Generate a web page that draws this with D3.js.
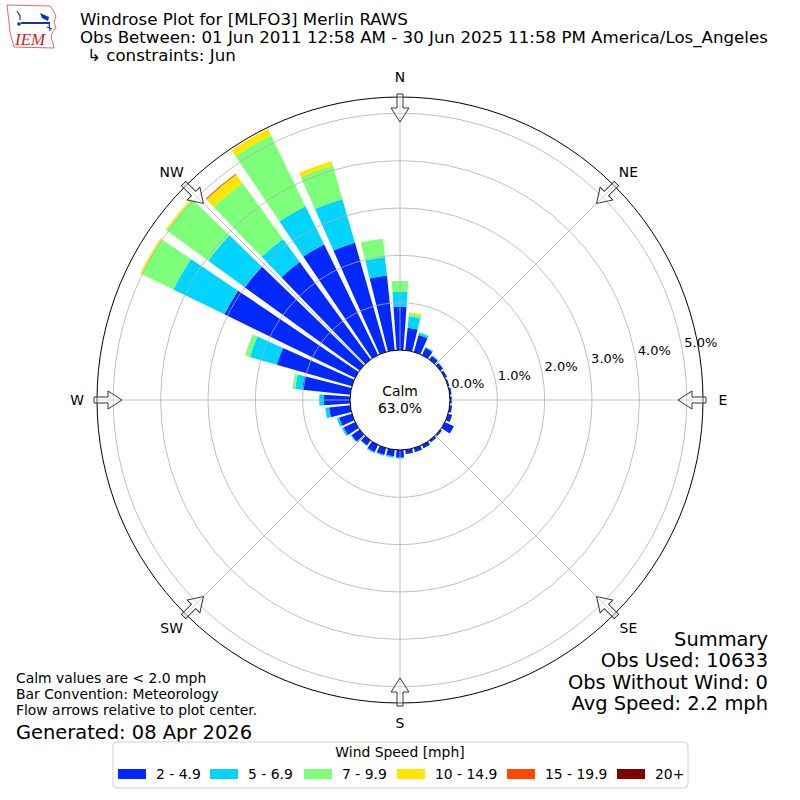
<!DOCTYPE html>
<html>
<head>
<meta charset="utf-8">
<script src="https://cdn.jsdelivr.net/npm/d3@7"></script>
<style>
  html, body { margin: 0; padding: 0; background: #fff; }
  svg { display: block; font-family: 'DejaVu Sans', sans-serif; }
</style>
</head>
<body>
<svg id="chart" width="800" height="800"></svg>
<script>
// ── DATA ─────────────────────────────────────────────────────────────────
const directions = d3.range(0, 360, 10);   // 36 sectors, degrees from north
const speedBins  = ['2 - 4.9', '5 - 6.9', '7 - 9.9', '10 - 14.9', '15 - 19.9', '20+'];
const binColors  = ['#0028ff', '#00d4ff', '#7dff7a', '#ffe500', '#ff4800', '#800000'];

// percent of observations per sector, one array per speed bin
const pct2to5   = [0.92, 0.48, 0.37, 0.17, 0.09, 0.07, 0.05, 0.03, 0.04, 0.04, 0.05, 0.09,
                   0.21, 0.04, 0.05, 0.08, 0.09, 0.09, 0.16, 0.14, 0.15, 0.17, 0.13, 0.21,
                   0.27, 0.28, 0.45, 0.55, 1.02, 1.65, 3.07, 3.00, 2.55, 2.60, 2.40, 1.59];
const pct5to7   = [0.31, 0.24, 0.05, 0.02, 0.02, 0.01, 0, 0, 0, 0, 0, 0,
                   0, 0, 0, 0, 0, 0, 0.02, 0.03, 0.02, 0.02, 0.01, 0.02,
                   0.04, 0.05, 0.08, 0.10, 0.15, 0.59, 1.20, 0.95, 0.60, 0.90, 0.96, 0.39];
const pct7to10  = [0.23, 0.06, 0.02, 0.01, 0, 0, 0, 0, 0, 0, 0, 0,
                   0, 0, 0, 0, 0, 0, 0, 0, 0.01, 0, 0, 0,
                   0, 0, 0, 0, 0.06, 0.11, 0.75, 1.09, 1.46, 1.66, 0.74, 0.39];
const pct10to15 = [0, 0.03, 0, 0, 0, 0, 0, 0, 0, 0, 0, 0,
                   0, 0, 0, 0, 0, 0, 0, 0, 0, 0, 0, 0,
                   0, 0, 0, 0, 0, 0, 0.03, 0.03, 0.22, 0.15, 0.09, 0];
const pct15to20 = [0, 0, 0, 0, 0, 0, 0, 0, 0, 0, 0, 0,
                   0, 0, 0, 0, 0, 0, 0, 0, 0, 0, 0, 0,
                   0, 0, 0, 0, 0, 0, 0, 0, 0.02, 0, 0, 0];
const pct20up   = new Array(36).fill(0);

const ringTicks = [0, 1, 2, 3, 4, 5];
const compass   = ['N', 'NE', 'E', 'SE', 'S', 'SW', 'W', 'NW'];
const calmPct   = 63.0;

const titleLines = [
  'Windrose Plot for [MLFO3] Merlin RAWS',
  'Obs Between: 01 Jun 2011 12:58 AM - 30 Jun 2025 11:58 PM America/Los_Angeles',
  '\u21b3 constraints: Jun'
];
const notes   = ['Calm values are < 2.0 mph', 'Bar Convention: Meteorology', 'Flow arrows relative to plot center.'];
const summary = ['Summary', 'Obs Used: 10633', 'Obs Without Wind: 0', 'Avg Speed: 2.2 mph'];

// ── SETUP ────────────────────────────────────────────────────────────────
const svg = d3.select('#chart');
const cx = 400, cy = 400;
const calmR = 50, outerR = 303;
const deg = Math.PI / 180;
const fsSmall = 13.9, fsTitle = 16.67, fsBig = 19.44;   // 10pt, 12pt, 14pt

const r = d3.scaleLinear().domain([0, 5.344]).range([calmR, outerR]);

const series = [pct2to5, pct5to7, pct7to10, pct10to15, pct15to20, pct20up];
const rows = directions.map((d, i) => {
  const row = { dir: d };
  speedBins.forEach((b, j) => { row[b] = series[j][i]; });
  return row;
});
const stacked = d3.stack().keys(speedBins)(rows);

const g = svg.append('g').attr('transform', `translate(${cx},${cy})`);

// Bars (opening 0.8 of a 10° sector)
const arc = d3.arc();
stacked.forEach((layer, j) => {
  g.append('g').selectAll('path').data(layer.filter(d => d[1] - d[0] > 0)).enter()
    .append('path')
    .attr('fill', binColors[j])
    .attr('d', d => arc({
      innerRadius: r(d[0]), outerRadius: r(d[1]),
      startAngle: (d.data.dir - 4) * deg, endAngle: (d.data.dir + 4) * deg
    }));
});

// Grid rings + spokes (on top of bars, like the original)
g.append('g').selectAll('circle').data(ringTicks.slice(1)).enter().append('circle')
  .attr('r', d => r(d)).attr('fill', 'none')
  .attr('stroke', '#b0b0b0').attr('stroke-width', 0.8);

g.append('g').selectAll('line').data(d3.range(0, 360, 45)).enter().append('line')
  .attr('x1', 0).attr('y1', 0)
  .attr('x2', d => outerR * Math.sin(d * deg))
  .attr('y2', d => -outerR * Math.cos(d * deg))
  .attr('stroke', '#b0b0b0').attr('stroke-width', 0.8);

// Outer frame
g.append('circle').attr('r', outerR).attr('fill', 'none').attr('stroke', '#000').attr('stroke-width', 1);

// Calm circle
g.append('circle').attr('r', calmR).attr('fill', '#fff').attr('stroke', '#000').attr('stroke-width', 1);
g.append('text').attr('text-anchor', 'middle').attr('y', -4).attr('font-size', fsSmall).text('Calm');
g.append('text').attr('text-anchor', 'middle').attr('y', 12.5).attr('font-size', fsSmall).text(calmPct.toFixed(1) + '%');

// Radial tick labels (along ~10° above east)
g.append('g').selectAll('text').data(ringTicks).enter().append('text')
  .attr('x', d => r(d) * Math.cos(10 * deg) + 2)
  .attr('y', d => -r(d) * Math.sin(10 * deg) - 3.5)
  .attr('font-size', 13)
  .text(d => d.toFixed(1) + '%');

// Flow arrows at compass points (pointing toward center)
const arrowPath = 'M-3,-306 L3,-306 L3,-292 L9,-292 L0,-278 L-9,-292 L-3,-292 Z';
g.append('g').selectAll('path').data(d3.range(0, 360, 45)).enter().append('path')
  .attr('d', arrowPath)
  .attr('transform', d => `rotate(${d})`)
  .attr('fill', 'rgba(255,255,255,0.35)')
  .attr('stroke', '#333').attr('stroke-width', 1);

// Compass labels
g.append('g').selectAll('text').data(compass).enter().append('text')
  .attr('x', (d, i) => 323 * Math.sin(i * 45 * deg))
  .attr('y', (d, i) => -323 * Math.cos(i * 45 * deg))
  .attr('text-anchor', 'middle').attr('dominant-baseline', 'central')
  .attr('font-size', fsSmall)
  .text(d => d);

// ── TITLES ───────────────────────────────────────────────────────────────
svg.append('g').selectAll('text').data(titleLines).enter().append('text')
  .attr('x', (d, i) => i === 2 ? 87 : 80)
  .attr('y', (d, i) => 25 + i * 17.8)
  .attr('font-size', fsTitle)
  .text(d => d);

// Notes, bottom-left
svg.append('g').selectAll('text').data(notes).enter().append('text')
  .attr('x', 16).attr('y', (d, i) => 683 + i * 16)
  .attr('font-size', fsSmall).text(d => d);
svg.append('text').attr('x', 16).attr('y', 738.5).attr('font-size', fsBig).text('Generated: 08 Apr 2026');

// Summary, bottom-right
svg.append('g').selectAll('text').data(summary).enter().append('text')
  .attr('x', 768).attr('y', (d, i) => 646 + i * 21.4)
  .attr('text-anchor', 'end').attr('font-size', fsBig).text(d => d);

// ── LEGEND ───────────────────────────────────────────────────────────────
const lg = svg.append('g');
lg.append('rect').attr('x', 113).attr('y', 742).attr('width', 575).attr('height', 46)
  .attr('rx', 4).attr('fill', '#fff').attr('stroke', '#d0d0d0').attr('stroke-width', 1);
lg.append('text').attr('x', 400).attr('y', 757).attr('text-anchor', 'middle')
  .attr('font-size', fsSmall).text('Wind Speed [mph]');
const legendX = [118, 210, 304, 397, 507, 617];
const items = lg.selectAll('g.item').data(speedBins).enter().append('g')
  .attr('transform', (d, i) => `translate(${legendX[i]},769)`);
items.append('rect').attr('width', 28).attr('height', 10).attr('fill', (d, i) => binColors[i]);
items.append('text').attr('x', 38).attr('y', 10).attr('font-size', fsSmall).text(d => d);

// ── LOGO (IEM) ───────────────────────────────────────────────────────────
const logo = svg.append('g');
logo.append('path')
  .attr('d', 'M7,5 L50,6 L53,10 L56,16 L54,22 L56,28 L52,33 L51,38 L53,43 L54,48 L14,47 L12,40 L10,32 L9,22 L8,14 Z')
  .attr('fill', '#fff').attr('stroke', '#e04040').attr('stroke-width', 0.8);
logo.append('line').attr('x1', 21).attr('y1', 23).attr('x2', 50).attr('y2', 23)
  .attr('stroke', '#1a2fb0').attr('stroke-width', 2);
logo.append('path').attr('d', 'M40,13 L49,17 L48,21 L42,18 Z').attr('fill', '#1a2fb0');
logo.append('path').attr('d', 'M17,11 L20,16 L20,20').attr('fill', 'none').attr('stroke', '#1a2fb0').attr('stroke-width', 1.2);
logo.append('circle').attr('cx', 19).attr('cy', 24).attr('r', 1.8).attr('fill', '#1a2fb0');
logo.append('path').attr('d', 'M49,23 L50,31 M47,27 L52,29').attr('stroke', '#1a2fb0').attr('stroke-width', 1.2);
logo.append('text').attr('x', 15).attr('y', 45)
  .attr('font-family', "'Liberation Serif', 'DejaVu Serif', serif")
  .attr('font-style', 'italic').attr('font-size', 17).attr('fill', '#d02020')
  .text('IEM');
</script>
</body>
</html>
